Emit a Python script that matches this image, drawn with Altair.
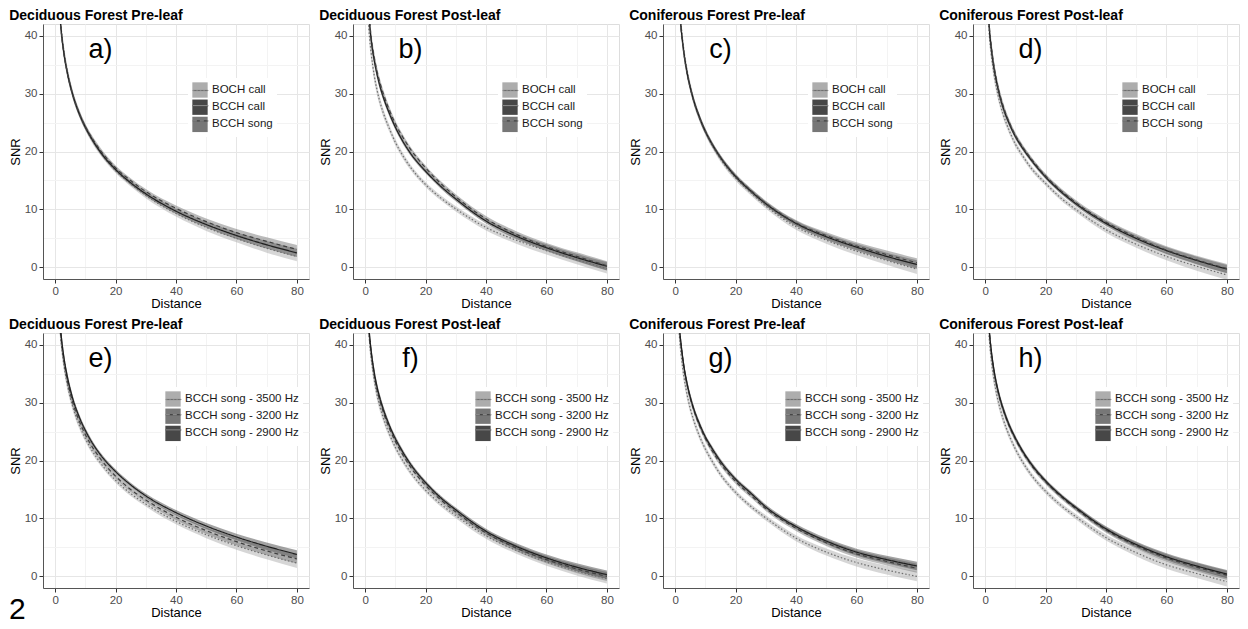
import altair as alt
import pandas as pd

# ---------------- data ----------------
DIST = [1, 1.5, 2, 3, 4, 5, 6, 8, 10, 12, 15, 20, 25, 30, 40, 50, 60, 70, 80]

A_BOCH = [48.8, 44.5, 41.4, 37.0, 34.0, 31.6, 29.6, 26.6, 24.2, 22.2, 19.8, 16.7, 14.4, 12.4, 9.3, 6.9, 5.0, 3.3, 1.9]
A_CALL = [48.2, 44.0, 41.0, 36.7, 33.7, 31.4, 29.5, 26.5, 24.2, 22.3, 19.9, 16.9, 14.6, 12.7, 9.7, 7.4, 5.5, 3.9, 2.5]
A_SONG = [47.8, 43.7, 40.7, 36.6, 33.7, 31.4, 29.5, 26.6, 24.3, 22.5, 20.2, 17.2, 15.0, 13.1, 10.2, 7.9, 6.0, 4.5, 3.1]

B_BOCH = [43.0, 39.5, 37.0, 33.2, 30.5, 28.4, 26.7, 24.0, 21.6, 19.7, 17.3, 14.3, 12.0, 10.1, 6.9, 4.7, 2.9, 1.3, -0.2]
B_CALL = [45.5, 42.0, 39.3, 35.8, 33.2, 31.1, 29.4, 26.6, 24.2, 22.2, 19.7, 16.6, 14.0, 11.8, 8.0, 5.4, 3.4, 1.7, 0.2]
B_SONG = [46.0, 42.5, 39.8, 36.3, 33.7, 31.7, 30.0, 27.2, 24.8, 22.9, 20.4, 17.2, 14.5, 12.2, 8.4, 5.7, 3.6, 1.9, 0.3]

C_BOCH = [49.5, 45.0, 41.8, 37.1, 33.8, 31.3, 29.2, 26.0, 23.4, 21.3, 18.7, 15.4, 12.9, 10.6, 7.0, 4.7, 2.8, 1.2, -0.3]
C_CALL = [48.8, 44.3, 41.2, 36.7, 33.5, 31.1, 29.1, 26.0, 23.5, 21.5, 19.0, 15.7, 13.2, 11.0, 7.6, 5.3, 3.5, 1.9, 0.5]
C_SONG = [48.5, 44.0, 41.0, 36.5, 33.4, 31.0, 29.0, 25.9, 23.5, 21.5, 19.0, 15.8, 13.3, 11.1, 7.7, 5.5, 3.7, 2.2, 0.8]

D_BOCH = [43.5, 39.5, 37.0, 33.2, 30.4, 28.2, 26.4, 23.6, 21.3, 19.6, 17.3, 14.5, 12.0, 10.0, 6.5, 4.0, 1.9, 0.2, -1.3]
D_CALL = [44.5, 40.5, 38.0, 34.2, 31.5, 29.3, 27.5, 24.8, 22.6, 20.9, 18.7, 15.6, 13.1, 11.0, 7.6, 5.0, 2.9, 1.2, -0.3]
D_SONG = [45.0, 41.0, 38.5, 34.6, 31.8, 29.6, 27.8, 25.0, 22.8, 21.1, 18.9, 15.8, 13.3, 11.2, 7.8, 5.2, 3.0, 1.3, -0.2]

E_3500 = [47.5, 43.3, 40.4, 36.2, 33.2, 30.9, 29.0, 26.1, 23.8, 21.9, 19.6, 16.6, 14.3, 12.5, 9.5, 7.2, 5.3, 3.7, 2.3]
E_3200 = [48.2, 44.0, 41.0, 36.9, 33.9, 31.6, 29.7, 26.8, 24.5, 22.6, 20.3, 17.3, 15.0, 13.2, 10.2, 7.9, 6.0, 4.4, 3.0]
E_2900 = [48.8, 44.6, 41.7, 37.5, 34.6, 32.3, 30.4, 27.5, 25.2, 23.3, 21.0, 18.1, 15.8, 13.9, 11.0, 8.7, 6.8, 5.2, 3.8]

F_3500 = [44.0, 40.3, 37.8, 34.0, 31.2, 29.1, 27.4, 24.6, 22.3, 20.4, 18.0, 14.9, 12.5, 10.5, 7.0, 4.5, 2.5, 0.9, -0.4]
F_3200 = [44.5, 41.0, 38.6, 34.8, 32.1, 30.1, 28.4, 25.6, 23.3, 21.4, 18.9, 15.7, 13.2, 11.1, 7.5, 4.9, 2.9, 1.3, 0.0]
F_2900 = [45.0, 41.5, 39.0, 35.3, 32.6, 30.6, 28.9, 26.1, 23.8, 21.9, 19.4, 16.2, 13.6, 11.5, 7.8, 5.2, 3.2, 1.6, 0.3]

G_3500 = [45.0, 41.0, 38.3, 34.2, 31.3, 29.0, 27.2, 24.3, 22.0, 20.1, 17.6, 14.5, 12.1, 10.1, 6.6, 4.2, 2.4, 1.1, 0.0]
G_3200 = [46.3, 42.3, 39.8, 35.8, 33.0, 30.8, 29.0, 26.1, 23.8, 21.9, 19.5, 16.4, 14.0, 11.7, 8.3, 5.8, 3.9, 2.6, 1.4]
G_2900 = [46.5, 42.5, 40.0, 36.0, 33.2, 31.0, 29.2, 26.4, 24.1, 22.3, 19.9, 16.8, 14.4, 12.0, 8.6, 6.1, 4.2, 2.9, 1.8]

H_3500 = [44.0, 40.3, 37.6, 33.8, 31.0, 28.9, 27.1, 24.3, 22.0, 20.1, 17.7, 14.7, 12.3, 10.3, 6.7, 4.1, 2.0, 0.5, -0.9]
H_3200 = [45.3, 41.6, 39.0, 35.2, 32.5, 30.4, 28.7, 25.9, 23.7, 21.8, 19.4, 16.3, 13.8, 11.7, 8.0, 5.3, 3.2, 1.6, 0.2]
H_2900 = [45.5, 41.8, 39.2, 35.4, 32.7, 30.6, 28.9, 26.1, 23.9, 22.0, 19.6, 16.5, 14.0, 11.9, 8.2, 5.5, 3.4, 1.8, 0.4]

# confidence band half-widths
HW_LIGHT = [1.6, 1.4, 1.25, 1.02, 0.88, 0.78, 0.7, 0.6, 0.54, 0.5, 0.46, 0.43, 0.43, 0.45, 0.52, 0.6, 0.68, 0.76, 0.84]
HW_MID = [1.45, 1.25, 1.1, 0.9, 0.78, 0.7, 0.64, 0.55, 0.5, 0.46, 0.43, 0.4, 0.4, 0.42, 0.47, 0.55, 0.63, 0.7, 0.78]
HW_DARK = [1.3, 1.12, 0.98, 0.8, 0.7, 0.62, 0.57, 0.5, 0.45, 0.42, 0.39, 0.37, 0.37, 0.39, 0.44, 0.51, 0.58, 0.65, 0.72]

TOP_SERIES = ["BOCH call", "BCCH call", "BCCH song"]
BOTTOM_SERIES = ["BCCH song - 3500 Hz", "BCCH song - 3200 Hz", "BCCH song - 2900 Hz"]
TOP_TONES = ["light", "dark", "mid"]
BOTTOM_TONES = ["light", "mid", "dark"]

TITLES = ["Deciduous Forest Pre-leaf", "Deciduous Forest Post-leaf",
          "Coniferous Forest Pre-leaf", "Coniferous Forest Post-leaf"] * 2
LETTERS = ["a)", "b)", "c)", "d)", "e)", "f)", "g)", "h)"]
PANEL_SERIES = [
    [A_BOCH, A_CALL, A_SONG], [B_BOCH, B_CALL, B_SONG],
    [C_BOCH, C_CALL, C_SONG], [D_BOCH, D_CALL, D_SONG],
    [E_3500, E_3200, E_2900], [F_3500, F_3200, F_2900],
    [G_3500, G_3200, G_2900], [H_3500, H_3200, H_2900],
]
LETTER_POS = (15, 37.5)

# ---------------- styles ----------------
FONT = "Liberation Sans"
HW = {"light": HW_LIGHT, "mid": HW_MID, "dark": HW_DARK}
FILL = {"light": "#adadad", "mid": "#777777", "dark": "#474747"}
LINE = {"light": "#6e6e6e", "mid": "#404040", "dark": "#1e1e1e"}
DASH = {"light": [1.5, 2], "mid": [4, 3], "dark": [1, 0]}

W, H = 266, 255
XDOM = [-4, 84]
YDOM = [-2, 42]

minor_x = "datum.value % 20 != 0"
minor_y = "datum.value % 10 != 0"

x_axis = alt.Axis(
    values=list(range(0, 81, 10)),
    labelExpr="datum.value % 20 == 0 ? datum.label : ''",
    title="Distance", titleFontSize=13, titleFontWeight="normal", titleColor="#000000",
    titlePadding=1, labelFontSize=11.5, labelColor="#4d4d4d", labelPadding=2,
    tickSize=4, tickColor="#333333",
    tickOpacity={"condition": {"test": minor_x, "value": 0}, "value": 1},
    gridColor={"condition": {"test": minor_x, "value": "#f3f3f3"}, "value": "#e6e6e6"},
    domainColor="#555555", labelFlush=False,
)
y_axis = alt.Axis(
    values=list(range(0, 41, 5)),
    labelExpr="datum.value % 10 == 0 ? datum.label : ''",
    title="SNR", titleFontSize=13, titleFontWeight="normal", titleColor="#000000",
    titlePadding=2, labelFontSize=11.5, labelColor="#4d4d4d", labelPadding=2,
    tickSize=4, tickColor="#333333",
    tickOpacity={"condition": {"test": minor_y, "value": 0}, "value": 1},
    gridColor={"condition": {"test": minor_y, "value": "#f3f3f3"}, "value": "#e6e6e6"},
    domainColor="#555555", labelFlush=False,
)

panels = []
for i in range(8):
    names = TOP_SERIES if i < 4 else BOTTOM_SERIES
    tones = TOP_TONES if i < 4 else BOTTOM_TONES
    rows = []
    for name, tone, vals in zip(names, tones, PANEL_SERIES[i]):
        for d, v, h in zip(DIST, vals, HW[tone]):
            rows.append({"dist": d, "snr": v, "lo": v - h, "hi": v + h,
                         "series": name, "key": name})
    df = pd.DataFrame(rows)
    lx, ly = (145, 54) if i < 4 else (118, 54)

    xs = alt.X("dist:Q", scale=alt.Scale(domain=XDOM, nice=False, zero=False), axis=x_axis)

    fill_leg = alt.Legend(title=None, orient="none", legendX=lx, legendY=ly,
                          symbolType="square", symbolSize=235, symbolStrokeWidth=0,
                          symbolOpacity=1, labelFontSize=11.5, labelFont=FONT,
                          labelColor="#1a1a1a", fillColor="white", padding=4,
                          rowPadding=1.2, labelOffset=4)
    # line keys drawn over the square keys; their own labels are left empty
    line_leg = alt.Legend(title=None, orient="none", legendX=lx, legendY=ly,
                          symbolType="stroke", symbolSize=235, symbolStrokeWidth=1.2,
                          labelFontSize=11.5, labelFont=FONT, labelExpr="''",
                          padding=4, rowPadding=1.2, labelOffset=4)

    band = alt.Chart(df).mark_area(opacity=0.5, interpolate="monotone", clip=True).encode(
        x=xs,
        y=alt.Y("lo:Q", scale=alt.Scale(domain=YDOM, nice=False, zero=False), axis=y_axis),
        y2="hi:Q",
        fill=alt.Fill("series:N",
                      scale=alt.Scale(domain=names, range=[FILL[t] for t in tones]),
                      legend=fill_leg),
    )
    # stroke / dash scales take their domain from the data (sorted by the list order)
    # so that their legend stays separate from the fill legend
    line = alt.Chart(df).mark_line(interpolate="monotone", clip=True, strokeWidth=1.2).encode(
        x=xs,
        y=alt.Y("snr:Q", scale=alt.Scale(domain=YDOM, nice=False, zero=False), axis=y_axis),
        stroke=alt.Stroke("key:N", sort=names,
                          scale=alt.Scale(range=[LINE[t] for t in tones]),
                          legend=line_leg),
        strokeDash=alt.StrokeDash("key:N", sort=names,
                                  scale=alt.Scale(range=[DASH[t] for t in tones]),
                                  legend=line_leg),
    )
    lab_df = pd.DataFrame({"dist": [LETTER_POS[0]], "snr": [LETTER_POS[1]], "t": [LETTERS[i]]})
    letter = alt.Chart(lab_df).mark_text(fontSize=27, font=FONT, align="center",
                                         baseline="middle", color="#000000").encode(
        x=xs,
        y=alt.Y("snr:Q", scale=alt.Scale(domain=YDOM, nice=False, zero=False), axis=y_axis),
        text="t:N",
    )
    layers = [band, line, letter]
    if i == 4:
        stray = alt.Chart(pd.DataFrame({"t": ["2"]})).mark_text(
            fontSize=30, font=FONT, align="left", baseline="top", color="#000000"
        ).encode(x=alt.value(-34), y=alt.value(262), text="t:N")
        layers.append(stray)
    panel = alt.layer(*layers).properties(
        width=W, height=H,
        title=alt.Title(TITLES[i], anchor="start", frame="bounds", fontSize=14,
                        fontWeight="bold", font=FONT, color="#000000", offset=1),
    )
    panels.append(panel)

chart = alt.concat(*panels, columns=4, spacing=alt.RowColnumber(row=6, column=8)).resolve_scale(
    fill="independent", stroke="independent", strokeDash="independent"
).resolve_legend(
    fill="independent", stroke="independent", strokeDash="independent"
).properties(
    padding=0
).configure_view(
    stroke="#9a9a9a", strokeWidth=1
).configure_axis(
    labelFont=FONT, titleFont=FONT
).configure(background="white")

chart.save("out.html", embed_options={"renderer": "svg", "actions": False})
